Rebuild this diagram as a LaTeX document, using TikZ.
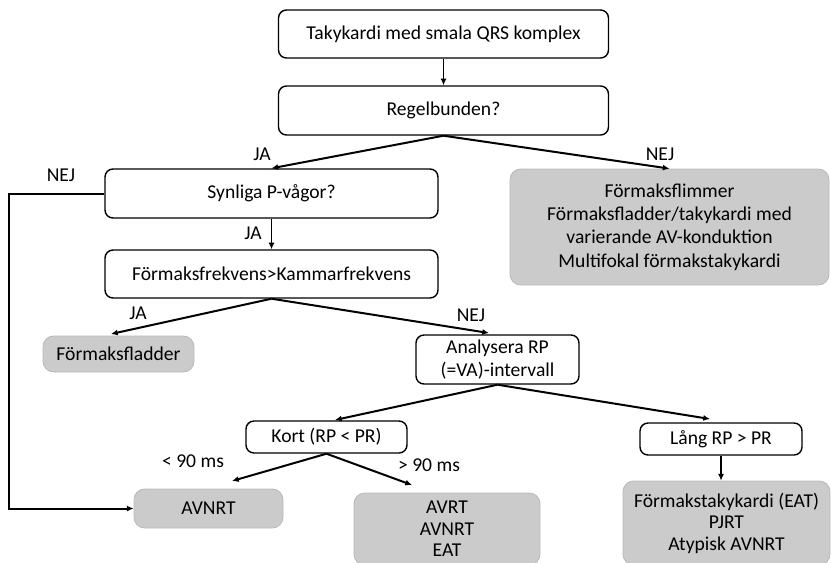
\documentclass[tikz,border=0pt]{standalone}
\usepackage{fontspec}
\setmainfont{Carlito}
\usetikzlibrary{arrows.meta}
\definecolor{boxgray}{RGB}{203,203,203}
\definecolor{edgegray}{RGB}{185,185,185}
\begin{document}
\begin{tikzpicture}[x=0.75pt,y=-0.75pt,
  qbox/.style={draw=black, line width=1.05pt, rounded corners=6pt, fill=white,
    align=center, inner sep=0pt, font=\fontsize{14.7}{17.4}\selectfont},
  rbox/.style={draw=edgegray, line width=0.6pt, fill=boxgray, rounded corners=8pt,
    align=center, inner sep=0pt, font=\fontsize{14.7}{17.4}\selectfont},
  lbl/.style={inner sep=0pt, font=\fontsize{14.7}{17}\selectfont},
  branch/.style={line width=1.5pt, -{Latex[length=5pt,width=4.5pt]}},
  link/.style={line width=0.9pt, -{Latex[length=5pt,width=4.5pt]}},
]
\useasboundingbox (0,0) rectangle (831,562);

% decision boxes
\node[qbox, minimum width={330*0.75pt}, minimum height={48*0.75pt}] (start) at (443.5,34) {Takykardi med smala QRS komplex};
\node[qbox, minimum width={330*0.75pt}, minimum height={49*0.75pt}] (regel) at (443.5,110.5) {Regelbunden?};
\node[qbox, minimum width={333*0.75pt}, minimum height={49*0.75pt}] (pwave) at (271.5,193.5) {Synliga P-vågor?};
\node[qbox, minimum width={333*0.75pt}, minimum height={48*0.75pt}] (freq) at (271.5,274) {Förmaksfrekvens>Kammarfrekvens};
\node[qbox, minimum width={163*0.75pt}, minimum height={49*0.75pt}] (rp) at (497.5,359.5) {Analysera RP\\(=VA)-intervall};
\node[qbox, minimum width={161*0.75pt}, minimum height={32*0.75pt}] (kort) at (326.5,437) {Kort (RP < PR)};
\node[qbox, minimum width={162*0.75pt}, minimum height={32*0.75pt}] (lang) at (721,439) {Lång RP > PR};

% diagnosis boxes
\node[rbox, minimum width={319*0.75pt}, minimum height={116*0.75pt}] (irreg) at (669.5,227)
  {Förmaksflimmer\\Förmaksfladder/takykardi med\\varierande AV-konduktion\\Multifokal förmakstakykardi};
\node[rbox, minimum width={151*0.75pt}, minimum height={36*0.75pt}] (flutter) at (118.5,354) {Förmaksfladder};
\node[rbox, minimum width={149*0.75pt}, minimum height={39*0.75pt}] (avnrt) at (208.5,508.5) {AVNRT};
\node[rbox, minimum width={186*0.75pt}, minimum height={72*0.75pt}, font=\fontsize{14.7}{16.2}\selectfont] (avrt) at (447,529) {AVRT\\AVNRT\\EAT};
\node[rbox, minimum width={207*0.75pt}, minimum height={84*0.75pt}, font=\fontsize{14.7}{16.2}\selectfont] (eat) at (726.5,523) {Förmakstakykardi (EAT)\\PJRT\\Atypisk AVNRT};

% arrow end points
\coordinate (flutterTip) at (111,334);
\coordinate (rpTip) at (489,333);
\coordinate (kortTip) at (335,420);
\coordinate (langTip) at (710,419);
\coordinate (lowTip) at (232,481);
\coordinate (highTip) at (412,485);

% connectors
\draw[link] (start.south) -- (regel.north);
\draw[branch] (regel.south) -- (pwave.north);
\draw[branch] (regel.south) -- (irreg.north);
\draw[branch] (pwave.west) -- ++(-95,0) |- (avnrt.west);
\draw[link] (pwave.south) -- (freq.north);
\draw[branch] (freq.south) -- (flutterTip);
\draw[branch] (freq.south) -- (rpTip);
\draw[branch] (rp.south) -- (kortTip);
\draw[branch] (rp.south) -- (langTip);
\draw[branch] (kort.south) -- (lowTip);
\draw[branch] (kort.south) -- (highTip);
\draw[link] (lang.south) -- (lang.south |- eat.north);

% branch labels
\node[lbl] (ja1) at (262,154) {JA};
\node[lbl] (nej1) at (660,154) {NEJ};
\node[lbl] (nej2) at (61,175) {NEJ};
\node[lbl] (ja2) at (253,233) {JA};
\node[lbl] (ja3) at (138,313) {JA};
\node[lbl] (nej3) at (471,315) {NEJ};
\node[lbl] (lt90) at (193,461) {< 90 ms};
\node[lbl] (gt90) at (429,465) {> 90 ms};
\end{tikzpicture}
\end{document}
